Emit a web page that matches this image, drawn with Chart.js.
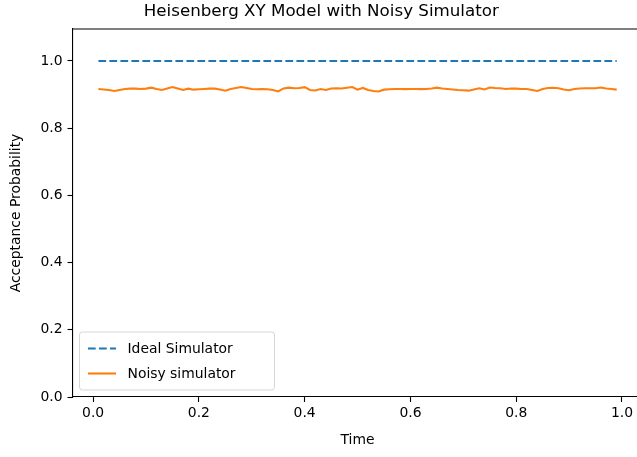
<!DOCTYPE html>
<html>
<head>
<meta charset="utf-8">
<script src="https://cdn.jsdelivr.net/npm/chart.js@4/dist/chart.umd.min.js"></script>
<style>
html, body { margin:0; padding:0; overflow:hidden; background:#fff; }
#wrap { position:absolute; left:0; top:0; width:650px; height:457px; }
</style>
</head>
<body>
<div id="wrap"><canvas id="c" width="650" height="457"></canvas></div>
<script>
const titleText = "Heisenberg XY Model with Noisy Simulator";
const xAxisLabel = "Time";
const yAxisLabel = "Acceptance Probability";
const seriesNames = ["Ideal Simulator", "Noisy simulator"];
const xTickValues = [0.0, 0.2, 0.4, 0.6, 0.8, 1.0];
const yTickValues = [0.0, 0.2, 0.4, 0.6, 0.8, 1.0];

const times = [0.01,0.02,0.03,0.04,0.05,0.06,0.07,0.08,0.09,0.10,
0.11,0.12,0.13,0.14,0.15,0.16,0.17,0.18,0.19,0.20,
0.21,0.22,0.23,0.24,0.25,0.26,0.27,0.28,0.29,0.30,
0.31,0.32,0.33,0.34,0.35,0.36,0.37,0.38,0.39,0.40,
0.41,0.42,0.43,0.44,0.45,0.46,0.47,0.48,0.49,0.50,
0.51,0.52,0.53,0.54,0.55,0.56,0.57,0.58,0.59,0.60,
0.61,0.62,0.63,0.64,0.65,0.66,0.67,0.68,0.69,0.70,
0.71,0.72,0.73,0.74,0.75,0.76,0.77,0.78,0.79,0.80,
0.81,0.82,0.83,0.84,0.85,0.86,0.87,0.88,0.89,0.90,
0.91,0.92,0.93,0.94,0.95,0.96,0.97,0.98,0.99];

const idealValues = [1,1,1,1,1,1,1,1,1,1, 1,1,1,1,1,1,1,1,1,1,
1,1,1,1,1,1,1,1,1,1, 1,1,1,1,1,1,1,1,1,1, 1,1,1,1,1,1,1,1,1,1,
1,1,1,1,1,1,1,1,1,1, 1,1,1,1,1,1,1,1,1,1, 1,1,1,1,1,1,1,1,1,1,
1,1,1,1,1,1,1,1,1,1, 1,1,1,1,1,1,1,1,1];

const noisyValues = [0.9167,0.9152,0.9137,0.9107,0.9137,0.9167,0.9176,0.9176,0.9167,0.9176,
0.9205,0.9167,0.9137,0.9182,0.9226,0.9182,0.9137,0.9176,0.9146,0.9158,
0.9167,0.9176,0.9176,0.9152,0.9116,0.9167,0.9196,0.9226,0.9196,0.9167,
0.9158,0.9167,0.9158,0.9137,0.9092,0.9182,0.9205,0.9187,0.9196,0.9220,
0.9137,0.9122,0.9167,0.9137,0.9182,0.9187,0.9182,0.9205,0.9226,0.9146,
0.9196,0.9137,0.9107,0.9092,0.9146,0.9158,0.9167,0.9167,0.9161,0.9167,
0.9167,0.9161,0.9167,0.9182,0.9205,0.9182,0.9167,0.9152,0.9137,0.9128,
0.9116,0.9152,0.9187,0.9152,0.9211,0.9196,0.9187,0.9167,0.9182,0.9176,
0.9167,0.9167,0.9137,0.9107,0.9167,0.9196,0.9202,0.9187,0.9152,0.9128,
0.9167,0.9182,0.9187,0.9187,0.9187,0.9211,0.9182,0.9167,0.9146];

const FONT = "'DejaVu Sans', sans-serif";
const BLUE = "#1f77b4", ORANGE = "#ff7f0e";

const frame = {
  id: 'frame',
  afterDraw(chart) {
    const {ctx, chartArea: a} = chart;
    ctx.save();
    ctx.strokeStyle = '#000';
    ctx.lineWidth = 1.1;
    ctx.beginPath();
    ctx.moveTo(a.left, a.top); ctx.lineTo(a.right, a.top);
    ctx.lineTo(a.right, a.bottom);
    ctx.stroke();
    // legend
    const left = a.left + 7, bottom = a.bottom - 7;
    const w = 195, h = 58, top = bottom - h;
    ctx.globalAlpha = 0.8;
    ctx.fillStyle = '#fff';
    ctx.strokeStyle = '#cccccc';
    ctx.lineWidth = 1;
    const r = 3;
    ctx.beginPath();
    ctx.moveTo(left + r, top);
    ctx.lineTo(left + w - r, top); ctx.quadraticCurveTo(left + w, top, left + w, top + r);
    ctx.lineTo(left + w, bottom - r); ctx.quadraticCurveTo(left + w, bottom, left + w - r, bottom);
    ctx.lineTo(left + r, bottom); ctx.quadraticCurveTo(left, bottom, left, bottom - r);
    ctx.lineTo(left, top + r); ctx.quadraticCurveTo(left, top, left + r, top);
    ctx.closePath();
    ctx.fill(); ctx.stroke();
    ctx.globalAlpha = 1;
    chart.data.datasets.forEach((ds, i) => {
      const y = top + 16.5 + i * 25;
      ctx.strokeStyle = ds.borderColor;
      ctx.lineWidth = ds.borderWidth;
      ctx.setLineDash(ds.borderDash || []);
      ctx.beginPath();
      ctx.moveTo(left + 8.5, y); ctx.lineTo(left + 36.5, y);
      ctx.stroke();
      ctx.setLineDash([]);
      ctx.fillStyle = '#000';
      ctx.font = '13.9px ' + FONT;
      ctx.textBaseline = 'middle';
      ctx.textAlign = 'left';
      ctx.fillText(ds.label, left + 48, y + 0.5);
    });
    ctx.restore();
  }
};

new Chart(document.getElementById('c'), {
  type: 'line',
  data: {
    datasets: [
      { label: seriesNames[0], data: times.map((t, i) => ({x: t, y: idealValues[i]})),
        borderColor: BLUE, borderWidth: 2.1, borderDash: [7.7, 3.3], pointRadius: 0, fill: false, tension: 0 },
      { label: seriesNames[1], data: times.map((t, i) => ({x: t, y: noisyValues[i]})),
        borderColor: ORANGE, borderWidth: 2.1, pointRadius: 0, fill: false, tension: 0 }
    ]
  },
  options: {
    responsive: false,
    animation: false,
    layout: { padding: { left: 0, right: 7.4, top: 0, bottom: 0 } },
    plugins: {
      legend: { display: false },
      tooltip: { enabled: false },
      title: { display: true, text: titleText, color: '#000',
        font: { family: FONT, size: 16.7, weight: 'normal', lineHeight: 1.2 },
        padding: { top: 2, bottom: 7 } }
    },
    scales: {
      x: {
        type: 'linear', min: -0.039, max: 1.039,
        afterBuildTicks: s => { s.ticks = xTickValues.map(v => ({value: v})); },
        afterFit: s => { s.height = 60; },
        ticks: { color: '#000', font: { family: FONT, size: 13.9 }, padding: 3,
          maxRotation: 0, autoSkip: false, callback: v => v.toFixed(1) },
        grid: { display: true, drawOnChartArea: false, drawTicks: true, tickLength: 5, tickColor: '#000', tickWidth: 1.1 },
        border: { display: true, color: '#000', width: 1.1 },
        title: { display: true, text: xAxisLabel, color: '#000',
          font: { family: FONT, size: 13.9, lineHeight: 1.2 }, padding: { top: 0, bottom: 8.7 } }
      },
      y: {
        type: 'linear', min: 0, max: 1.095,
        afterBuildTicks: s => { s.ticks = yTickValues.map(v => ({value: v})); },
        afterFit: s => { s.width = 72.5; },
        ticks: { color: '#000', font: { family: FONT, size: 13.9 }, padding: 5,
          autoSkip: false, callback: v => v.toFixed(1) },
        grid: { display: true, drawOnChartArea: false, drawTicks: true, tickLength: 5, tickColor: '#000', tickWidth: 1.1 },
        border: { display: true, color: '#000', width: 1.1 },
        title: { display: true, text: yAxisLabel, color: '#000',
          font: { family: FONT, size: 13.9, lineHeight: 1.2 }, padding: { top: 7.7, bottom: 0 } }
      }
    }
  },
  plugins: [frame]
});
</script>
</body>
</html>
